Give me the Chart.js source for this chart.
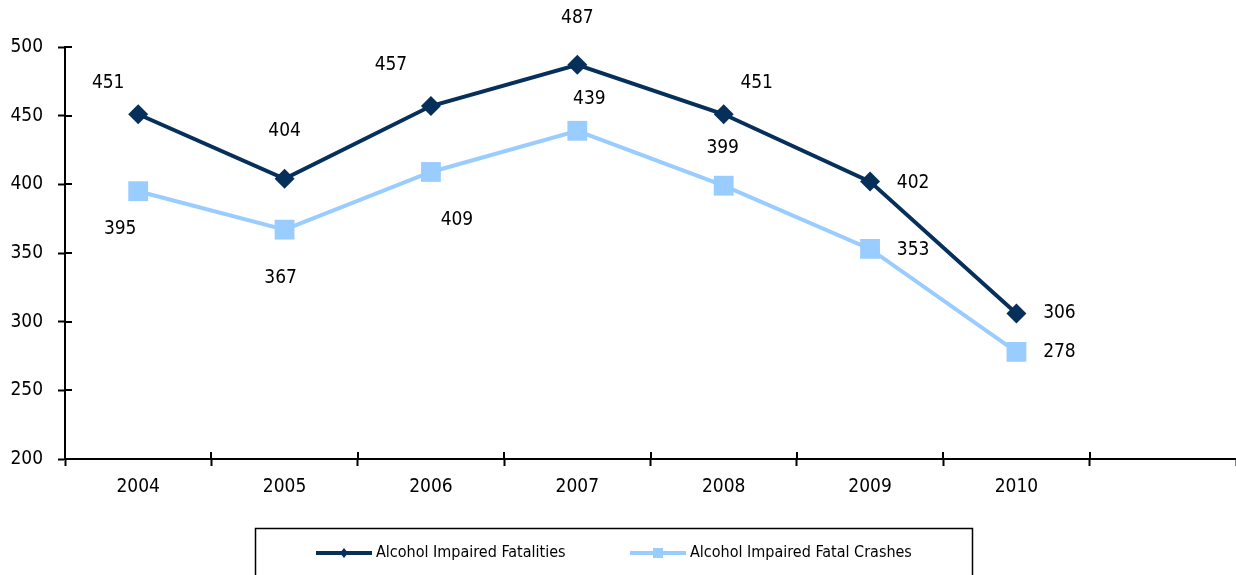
<!DOCTYPE html>
<html>
<head>
<meta charset="utf-8">
<script src="https://cdn.jsdelivr.net/npm/chart.js@4"></script>
<style>
  html, body { margin: 0; padding: 0; background: #fff; overflow: hidden; }
  #wrap { width: 1236px; height: 575px; position: relative; }
  canvas { display: block; }
</style>
</head>
<body>
<div id="wrap"><canvas id="chart"></canvas></div>
<script>
const years = ['2004', '2005', '2006', '2007', '2008', '2009', '2010', ''];
const fatalities = [451, 404, 457, 487, 451, 402, 306, null];
const fatalCrashes = [395, 367, 409, 439, 399, 353, 278, null];
const yTicks = [200, 250, 300, 350, 400, 450, 500];

// label offsets from each point (px), placed the way the original has them
const fatalitiesLabelPos = [[-30, -31], [0, -48], [-40, -41], [0, -47], [33, -31], [43, 1], [43, 0]];
const crashesLabelPos = [[-18, 38], [-4, 48], [26, 48], [12, -32], [-1, -38], [43, 1], [43, 0]];

const FONT = "'DejaVu Sans Condensed', 'Liberation Sans Narrow', sans-serif";
const DARK = '#06305a';
const LIGHT = '#99ccff';

const labelsPlugin = {
  id: 'pointLabels',
  afterDatasetsDraw(chart) {
    const ctx = chart.ctx;
    const offsets = [fatalitiesLabelPos, crashesLabelPos];
    ctx.save();
    ctx.font = '19px ' + FONT;
    ctx.fillStyle = '#000';
    ctx.textAlign = 'center';
    ctx.textBaseline = 'middle';
    chart.data.datasets.forEach((ds, di) => {
      const meta = chart.getDatasetMeta(di);
      meta.data.forEach((pt, i) => {
        if (ds.data[i] == null) return;
        const off = offsets[di][i];
        ctx.fillText(String(ds.data[i]), pt.x + off[0], pt.y + off[1]);
      });
    });
    ctx.restore();
  }
};

// small cross ticks on the inside of both axes + legend box
const axisPlugin = {
  id: 'axisExtras',
  afterDraw(chart) {
    const ctx = chart.ctx;
    const area = chart.chartArea;
    const y = chart.scales.y;
    ctx.save();
    ctx.strokeStyle = '#000';
    ctx.lineWidth = 2;
    ctx.beginPath();
    yTicks.forEach(v => {
      const py = Math.round(y.getPixelForValue(v));
      ctx.moveTo(area.left, py);
      ctx.lineTo(area.left + 7, py);
    });
    const step = (area.right - area.left) / years.length;
    for (let i = 1; i < years.length; i++) {
      const px = Math.round(area.left + step * i);
      ctx.moveTo(px, area.bottom);
      ctx.lineTo(px, area.bottom - 7);
    }
    ctx.stroke();

    // legend
    ctx.lineWidth = 1.5;
    ctx.strokeRect(255.5, 528.5, 717, 60);
    ctx.font = '16px ' + FONT;
    ctx.textBaseline = 'middle';
    ctx.textAlign = 'left';
    const items = [
      { text: chart.data.datasets[0].label, color: DARK, x: 316, shape: 'diamond' },
      { text: chart.data.datasets[1].label, color: LIGHT, x: 630, shape: 'square' }
    ];
    items.forEach(it => {
      const ly = 553;
      ctx.strokeStyle = it.color;
      ctx.lineWidth = 4;
      ctx.beginPath();
      ctx.moveTo(it.x, ly);
      ctx.lineTo(it.x + 56, ly);
      ctx.stroke();
      ctx.fillStyle = it.color;
      const cx = it.x + 28;
      ctx.beginPath();
      if (it.shape === 'diamond') {
        ctx.moveTo(cx, ly - 5);
        ctx.lineTo(cx + 4, ly);
        ctx.lineTo(cx, ly + 5);
        ctx.lineTo(cx - 4, ly);
        ctx.closePath();
      } else {
        ctx.rect(cx - 5, ly - 5, 10, 10);
      }
      ctx.fill();
      ctx.fillStyle = '#000';
      ctx.fillText(it.text, it.x + 60, ly);
    });
    ctx.restore();
  }
};

new Chart(document.getElementById('chart'), {
  type: 'line',
  data: {
    labels: years,
    datasets: [
      {
        label: 'Alcohol Impaired Fatalities',
        data: fatalities,
        borderColor: DARK,
        backgroundColor: DARK,
        borderWidth: 4,
        pointStyle: 'rectRot',
        pointRadius: 10,
        pointBorderWidth: 0,
        tension: 0
      },
      {
        label: 'Alcohol Impaired Fatal Crashes',
        data: fatalCrashes,
        borderColor: LIGHT,
        backgroundColor: LIGHT,
        borderWidth: 4,
        pointStyle: 'rect',
        pointRadius: 14,
        pointBorderWidth: 0,
        tension: 0
      }
    ]
  },
  options: {
    responsive: true,
    maintainAspectRatio: false,
    animation: false,
    layout: { autoPadding: false, padding: { top: 47, right: 0, left: 0, bottom: 0 } },
    scales: {
      x: {
        type: 'category',
        offset: true,
        afterFit: scale => {
          scale.height = 116;
          scale.paddingLeft = 0;
          scale.paddingRight = 0;
        },
        grid: {
          offset: true,
          drawOnChartArea: false,
          drawTicks: true,
          tickLength: 7,
          tickWidth: 2,
          color: '#000'
        },
        border: { display: true, color: '#000', width: 2 },
        ticks: {
          color: '#000',
          font: { family: FONT, size: 19 },
          padding: 10,
          maxRotation: 0,
          autoSkip: false
        }
      },
      y: {
        min: 200,
        max: 500,
        afterFit: scale => { scale.width = 65; },
        afterBuildTicks: scale => { scale.ticks = yTicks.map(v => ({ value: v })); },
        grid: {
          drawOnChartArea: false,
          drawTicks: true,
          tickLength: 7,
          tickWidth: 2,
          color: '#000'
        },
        border: { display: true, color: '#000', width: 2 },
        ticks: {
          color: '#000',
          font: { family: FONT, size: 19 },
          padding: 15
        }
      }
    },
    plugins: {
      legend: { display: false },
      tooltip: { enabled: false }
    }
  },
  plugins: [labelsPlugin, axisPlugin]
});
</script>
</body>
</html>
